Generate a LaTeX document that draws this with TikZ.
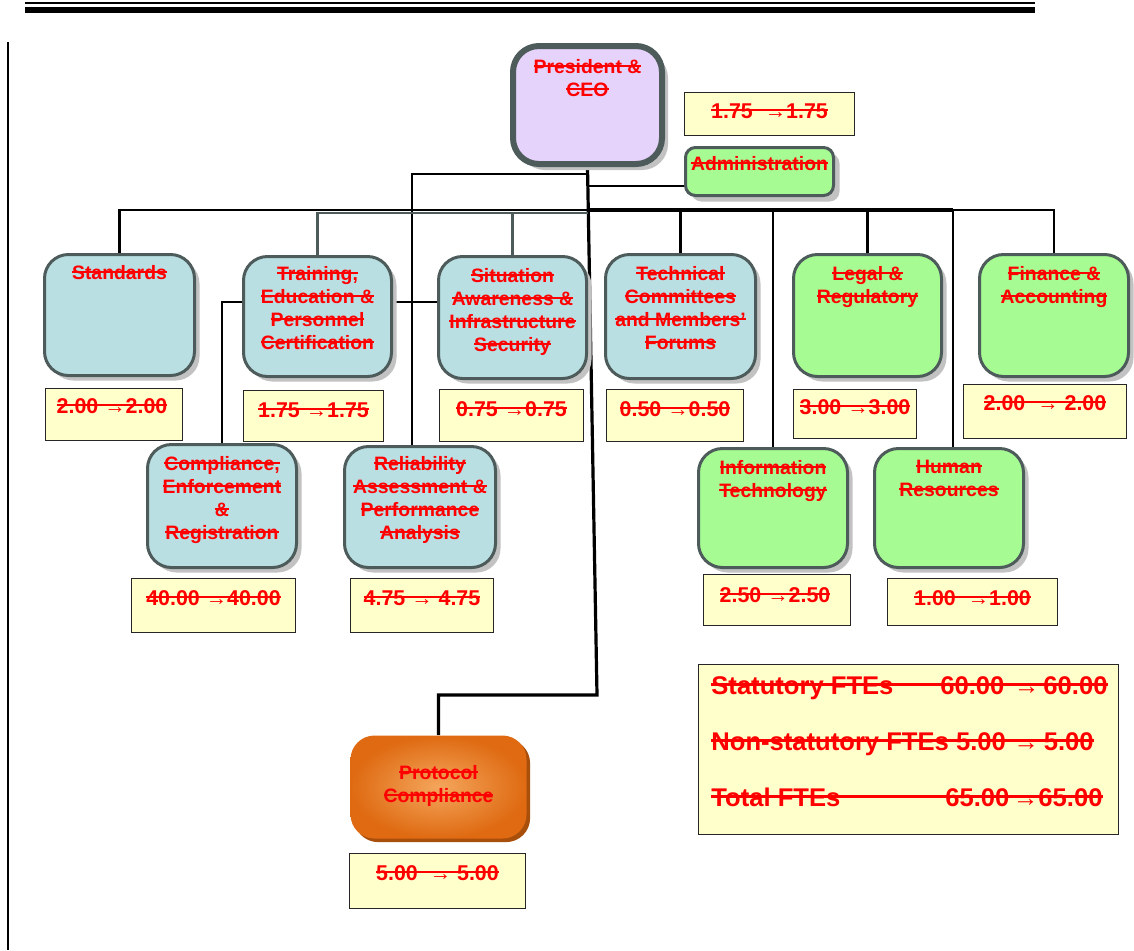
\documentclass[tikz,border=0pt]{standalone}
\usepackage{fontspec}
\setmainfont{Liberation Sans}
\usetikzlibrary{shadows,calc}
\definecolor{bd}{HTML}{4D5B5B}
\definecolor{bluef}{HTML}{B9DFE3}
\definecolor{greenf}{HTML}{A6FB93}
\definecolor{lav}{HTML}{E6D3FB}
\definecolor{yel}{HTML}{FFFFCC}
\definecolor{shd}{HTML}{C2C2C2}
\definecolor{orL}{HTML}{F4A65C}
\definecolor{orD}{HTML}{DF6A12}
\definecolor{orS}{HTML}{A94F0C}
\definecolor{txtred}{HTML}{FF0000}
\newcommand\strk[1]{\leavevmode\setbox0\hbox{#1}\rlap{\rule[0.33em]{\wd0}{0.1em}}\box0}
\newcommand\arr{{\fontseries{m}\selectfont →}}
\pgfdeclarelayer{bg}
\pgfsetlayers{bg,main}
\begin{document}
\begin{tikzpicture}[x=0.5pt,y=-0.5pt,
  ubox/.style={draw=bd, line width=1.5pt, rounded corners=12pt, inner sep=0pt,
    drop shadow={shadow xshift=2.5pt, shadow yshift=-2.5pt, fill=shd, opacity=1}},
  sz/.style 2 args={minimum width=#1*0.5pt-1.5pt, minimum height=#2*0.5pt-1.5pt},
  vbox/.style={draw=black!85, line width=0.9pt, fill=yel, inner sep=0pt},
  lbl/.style={font=\fontsize{9.7}{11.5}\selectfont\bfseries, text=txtred, align=center, inner sep=0pt, anchor=north},
  val/.style={font=\fontsize{10.7}{12}\selectfont\bfseries, text=txtred, inner sep=0pt, anchor=north},
  sumt/.style={font=\fontsize{12.8}{15}\selectfont\bfseries, text=txtred, inner sep=0pt, anchor=base west},
  conn/.style={draw=black, line width=1.3pt},
  connG/.style={draw=bd, line width=1.3pt}]
\useasboundingbox (0,0) rectangle (1134,950);
% page decorations
\draw[line width=1pt] (25,3) -- (1035,3);
\draw[line width=3pt] (25,10) -- (1035,10);
\draw[line width=1pt] (8,42) -- (8,950);

% President
\node[ubox, fill=lav, line width=3pt, rounded corners=13pt, minimum width=155*0.5pt-3pt, minimum height=124*0.5pt-3pt,
  drop shadow={shadow xshift=3pt, shadow yshift=-3pt, fill=shd, opacity=1}] (pres) at (587.5,105) {};
\node[lbl] (presT) at (587.5,59) {\strk{President \&}\\\strk{CEO}};
\node[vbox, sz={173}{46}] (presV) at (769.5,114) {};
\node[val] (presVT) at (769.5,103) {\strk{1.75 \ \arr1.75}};

% Administration
\node[ubox, fill=greenf, rounded corners=5pt, sz={151}{51},
  drop shadow={shadow xshift=3pt, shadow yshift=-3pt, fill=shd, opacity=1}] (adm) at (759.5,171.5) {};
\node[lbl] (admT) at (759.5,156) {\strk{Administration}};

% First row
\node[ubox, fill=bluef, sz={153}{124}] (std) at (119.5,315) {};
\node[lbl] (stdT) at (119.5,265) {\strk{Standards}};
\node[vbox, sz={140}{55}] (stdV) at (114,414.5) {};
\node[val] (stdVT) at (112,398) {\strk{2.00 \arr2.00}};

\node[ubox, fill=bluef, sz={151}{123}] (train) at (317.5,316.5) {};
\node[lbl] (trainT) at (317.5,266) {\strk{Training,}\\\strk{Education \&}\\\strk{Personnel}\\\strk{Certification}};
\node[vbox, sz={143}{54}] (trainV) at (313.5,416) {};
\node[val] (trainVT) at (313.5,402) {\strk{1.75 \arr1.75}};

\node[ubox, fill=bluef, sz={151}{125}] (sit) at (512.5,317.5) {};
\node[lbl] (sitT) at (512.5,268) {\strk{Situation}\\\strk{Awareness \&}\\\strk{Infrastructure}\\\strk{Security}};
\node[vbox, sz={147}{55}] (sitV) at (511.5,415.5) {};
\node[val] (sitVT) at (511.5,401) {\strk{0.75 \arr0.75}};

\node[ubox, fill=bluef, sz={153}{127}] (tech) at (680.5,316.5) {};
\node[lbl] (techT) at (680.5,266) {\strk{Technical}\\\strk{Committees}\\\strk{and Members’}\\\strk{Forums}};
\node[vbox, sz={140}{55}] (techV) at (675,415.5) {};
\node[val] (techVT) at (675,401) {\strk{0.50 \arr0.50}};

\node[ubox, fill=greenf, sz={151}{125}] (legal) at (867.5,315.5) {};
\node[lbl] (legalT) at (867.5,266) {\strk{Legal \&}\\\strk{Regulatory}};
\node[vbox, sz={126}{52}] (legalV) at (855,414) {};
\node[val] (legalVT) at (855,399) {\strk{3.00 \arr3.00}};

\node[ubox, fill=greenf, sz={152}{125}] (fin) at (1054,315.5) {};
\node[lbl] (finT) at (1054,266) {\strk{Finance \&}\\\strk{Accounting}};
\node[vbox, sz={166}{57}] (finV) at (1045,411.5) {};
\node[val] (finVT) at (1045,395) {\strk{2.00 \ \arr\ 2.00}};

% Second row
\node[ubox, fill=bluef, sz={152}{126}] (comp) at (222,506) {};
\node[lbl] (compT) at (222,456) {\strk{Compliance,}\\\strk{Enforcement}\\\strk{\&}\\\strk{Registration}};
\node[vbox, sz={167}{57}] (compV) at (213.5,605.5) {};
\node[val] (compVT) at (213.5,590) {\strk{40.00 \arr40.00}};

\node[ubox, fill=bluef, sz={154}{124}] (rel) at (420,507) {};
\node[lbl] (relT) at (420,456) {\strk{Reliability}\\\strk{Assessment \&}\\\strk{Performance}\\\strk{Analysis}};
\node[vbox, sz={146}{57}] (relV) at (422,605.5) {};
\node[val] (relVT) at (422,590) {\strk{4.75 \arr\ 4.75}};

\node[ubox, fill=greenf, sz={152}{122}] (it) at (773,508) {};
\node[lbl] (itT) at (773,460) {\strk{Information}\\\strk{Technology}};
\node[vbox, sz={150}{54}] (itV) at (777,600) {};
\node[val] (itVT) at (775,587) {\strk{2.50 \arr2.50}};

\node[ubox, fill=greenf, sz={152}{122}] (hr) at (949,508) {};
\node[lbl] (hrT) at (949,460) {\strk{Human}\\\strk{Resources}};
\node[vbox, sz={173}{50}] (hrV) at (972.5,602) {};
\node[val] (hrVT) at (972.5,590) {\strk{1.00 \ \arr1.00}};

% Protocol compliance
\node[sz={179}{106}, rounded corners=12pt, inner sep=0pt, draw=none, inner color=orL, outer color=orD,
  drop shadow={shadow xshift=1.8pt, shadow yshift=-1.8pt, fill=orS, opacity=1}] (proto) at (438.5,787) {};
\node[lbl, anchor=center] (protoT) at (438.5,786) {\strk{Protocol}\\\strk{Compliance}};
\node[vbox, sz={179}{58}] (protoV) at (437.5,881) {};
\node[val] (protoVT) at (437.5,865) {\strk{5.00 \ \arr\ 5.00}};

% Summary
\node[vbox, sz={423}{173}] (sum) at (908.5,749.5) {};
\node[sumt] (s1) at (711,694) {\strk{\makebox[114.5pt][l]{Statutory FTEs}60.00\makebox[19.5pt][r]{\arr\hspace{2pt}}60.00}};
\node[sumt] (s2) at (711,750) {\strk{Non-statutory FTEs 5.00\makebox[19pt][r]{\arr\hspace{2.5pt}}5.00}};
\node[sumt] (s3) at (711,806) {\strk{\makebox[117pt][l]{Total FTEs}65.00\makebox[14.5pt][r]{\arr}65.00}};

% connectors
\coordinate (tk) at (597,695);
\coordinate (jR) at (588,174);
\coordinate (jA) at (588,186);
\coordinate (b0) at (588,210);
\coordinate (b1) at (588,213);
\coordinate (bR) at (953,210);
\coordinate (jC) at (437,302);
\begin{pgfonlayer}{bg}
\draw[conn, line width=1.6pt] (pres.south) -- (tk) -| (proto.north);
\draw[conn] (jR) -| ($(rel.north)+(-8,0)$);
\draw[conn] (jA) -- (jA -| adm.west);
\draw[conn] (std.north) |- (b0);
\draw[connG] (train.north) |- (b1);
\draw[connG] (b1 -| sit.north) -- (sit.north);
\draw[conn, line width=1.7pt] (b0) -- (bR);
\draw[conn] (bR) -| (fin.north);
\draw[conn] (b0 -| tech.north) -- (tech.north);
\draw[conn] (b0 -| it.north) -- (it.north);
\draw[conn] (b0 -| legal.north) -- (legal.north);
\draw[conn] (bR) -- (bR |- hr.north);
\draw[conn] (jC) -| (comp.north);
\end{pgfonlayer}
\end{tikzpicture}
\end{document}
